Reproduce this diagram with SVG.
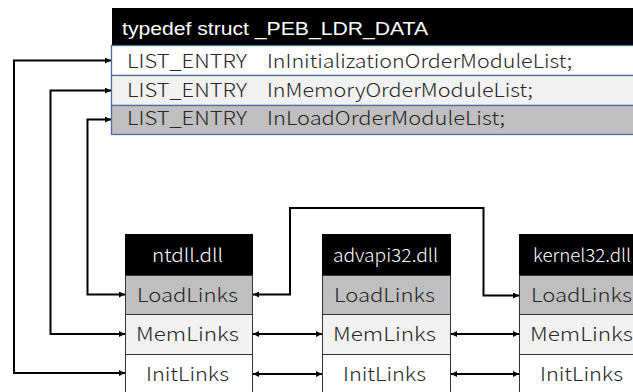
<svg xmlns="http://www.w3.org/2000/svg" width="633" height="392" viewBox="0 0 633 392">
<defs>
<marker id="ah" viewBox="0 0 10 10" refX="10" refY="5" markerWidth="7" markerHeight="6" markerUnits="userSpaceOnUse" orient="auto-start-reverse">
<path d="M0,0 L10,5 L0,10 z" fill="#000"/>
</marker>
<style>
.hdr{fill:#000}
.row{stroke:#4a6fa5;stroke-width:1.3}
.cell{stroke:#333;stroke-width:1}
.ht{font-family:"Liberation Sans",Arial,sans-serif;font-size:18px;fill:#fff}
.rt{font-family:"Noto Sans CJK JP","Noto Sans",sans-serif;font-weight:300;font-size:19px;fill:#262626}
.bt{font-family:"Noto Sans CJK JP","Noto Sans",sans-serif;font-weight:300;font-size:19px;fill:#262626}
.bh{font-family:"Noto Sans CJK JP","Noto Sans",sans-serif;font-weight:300;font-size:18px;fill:#fff}
.ln{fill:none;stroke:#000;stroke-width:2}
</style>
</defs>
<rect width="633" height="392" fill="#fff"/>
<g id="peb_ldr_data">
<rect x="112" y="8" width="530" height="37" class="hdr"/>
<text x="122" y="35" class="ht" textLength="306" lengthAdjust="spacingAndGlyphs">typedef struct _PEB_LDR_DATA</text>
<rect x="111.5" y="45.5" width="530" height="30" fill="#fff" class="row"/>
<rect x="111.5" y="75.5" width="530" height="30" fill="#f2f2f2" class="row"/>
<rect x="111.5" y="105.5" width="530" height="29" fill="#bfbfbf" class="row"/>
<text x="127" y="68" class="rt" textLength="120" lengthAdjust="spacingAndGlyphs">LIST_ENTRY</text><text x="267" y="68" class="rt" textLength="305" lengthAdjust="spacingAndGlyphs">InInitializationOrderModuleList;</text>
<text x="127" y="97" class="rt" textLength="120" lengthAdjust="spacingAndGlyphs">LIST_ENTRY</text><text x="267" y="97" class="rt" textLength="266" lengthAdjust="spacingAndGlyphs">InMemoryOrderModuleList;</text>
<text x="127" y="125" class="rt" textLength="120" lengthAdjust="spacingAndGlyphs">LIST_ENTRY</text><text x="267" y="125" class="rt" textLength="238" lengthAdjust="spacingAndGlyphs">InLoadOrderModuleList;</text>
</g>
<g id="ntdll">
<rect x="125" y="234" width="128" height="41" class="hdr"/>
<text x="152" y="262" class="bh" textLength="71" lengthAdjust="spacingAndGlyphs">ntdll.dll</text>
<rect x="125.5" y="275.5" width="127" height="39" fill="#bfbfbf" class="cell"/>
<rect x="125.5" y="314.5" width="127" height="40" fill="#f2f2f2" class="cell"/>
<rect x="125.5" y="354.5" width="127" height="40" fill="#fff" class="cell"/>
<text x="137" y="301.5" class="bt" textLength="101" lengthAdjust="spacingAndGlyphs">LoadLinks</text>
<text x="136" y="341" class="bt" textLength="103" lengthAdjust="spacingAndGlyphs">MemLinks</text>
<text x="146" y="380.5" class="bt" textLength="83" lengthAdjust="spacingAndGlyphs">InitLinks</text>
</g>
<g id="advapi32">
<rect x="322" y="234" width="129" height="41" class="hdr"/>
<text x="333" y="262" class="bh" textLength="105" lengthAdjust="spacingAndGlyphs">advapi32.dll</text>
<rect x="322.5" y="275.5" width="128" height="39" fill="#bfbfbf" class="cell"/>
<rect x="322.5" y="314.5" width="128" height="40" fill="#f2f2f2" class="cell"/>
<rect x="322.5" y="354.5" width="128" height="40" fill="#fff" class="cell"/>
<text x="334" y="301.5" class="bt" textLength="101" lengthAdjust="spacingAndGlyphs">LoadLinks</text>
<text x="333" y="341" class="bt" textLength="103" lengthAdjust="spacingAndGlyphs">MemLinks</text>
<text x="343" y="380.5" class="bt" textLength="83" lengthAdjust="spacingAndGlyphs">InitLinks</text>
</g>
<g id="kernel32">
<rect x="519" y="234" width="130" height="41" class="hdr"/>
<text x="533" y="262" class="bh" textLength="98" lengthAdjust="spacingAndGlyphs">kernel32.dll</text>
<rect x="519.5" y="275.5" width="130" height="39" fill="#bfbfbf" class="cell"/>
<rect x="519.5" y="314.5" width="130" height="40" fill="#f2f2f2" class="cell"/>
<rect x="519.5" y="354.5" width="130" height="40" fill="#fff" class="cell"/>
<text x="531" y="301.5" class="bt" textLength="101" lengthAdjust="spacingAndGlyphs">LoadLinks</text>
<text x="530" y="341" class="bt" textLength="103" lengthAdjust="spacingAndGlyphs">MemLinks</text>
<text x="540" y="380.5" class="bt" textLength="83" lengthAdjust="spacingAndGlyphs">InitLinks</text>
</g>
<g id="connectors">
<path d="M125,373 L14,373 L14,60.5 L111,60.5" class="ln" marker-start="url(#ah)" marker-end="url(#ah)"/>
<path d="M125,334 L50.5,334 L50.5,90.5 L111,90.5" class="ln" marker-start="url(#ah)" marker-end="url(#ah)"/>
<path d="M125,294.5 L87.5,294.5 L87.5,119.5 L111,119.5" class="ln" marker-start="url(#ah)" marker-end="url(#ah)"/>
<path d="M253,294.5 L290,294.5 L290,208 L483.5,208 L483.5,295.5 L519,295.5" class="ln" marker-start="url(#ah)" marker-end="url(#ah)"/>
<path d="M253,334 L322,334" class="ln" marker-start="url(#ah)" marker-end="url(#ah)"/>
<path d="M253,374 L322,374" class="ln" marker-start="url(#ah)" marker-end="url(#ah)"/>
<path d="M451,334 L519,334" class="ln" marker-start="url(#ah)" marker-end="url(#ah)"/>
<path d="M451,374 L519,374" class="ln" marker-start="url(#ah)" marker-end="url(#ah)"/>
</g>
</svg>
